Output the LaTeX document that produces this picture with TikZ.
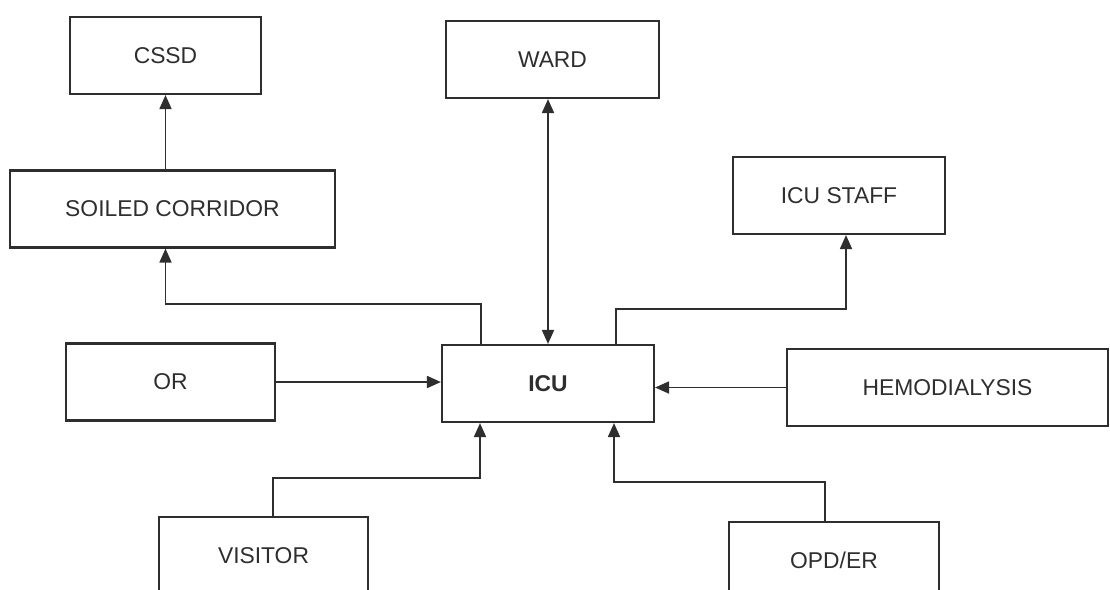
\documentclass[tikz,border=0pt]{standalone}
\usepackage{fontspec}
\setmainfont{Liberation Sans}
\usetikzlibrary{arrows.meta}
\definecolor{ink}{HTML}{2E2E2E}
\begin{document}
\begin{tikzpicture}[x=0.2mm,y=-0.2mm,>={Triangle[length=2.8mm,width=2.4mm]},
        room/.style={draw=ink,line width=1.2pt,text=ink,inner sep=0pt,minimum height=15.4mm,
            font=\fontsize{13}{15}\selectfont},
        flow/.style={draw=ink,line width=1pt,->}]
        \useasboundingbox(0,0)rectangle(1110,589);
        \clip(0,0)rectangle(1110,589);
        \node[room,minimum width=38.2mm](cssd)at(165.5,55.5){CSSD};
        \node[room,minimum width=42.6mm](ward)at(552.5,59.5){WARD};
        \node[room,minimum width=65mm](soiled)at(172.5,209){SOILED CORRIDOR};
        \node[room,minimum width=42.4mm](staff)at(839,195.5){ICU STAFF};
        \node[room,minimum width=41.8mm](or)at(170.5,382){OR};
        \node[room,minimum width=42.4mm](icu)at(548,383.5){\textbf{ICU}};
        \node[room,minimum width=64.2mm](hemo)at(947.5,387.5){HEMODIALYSIS};
        \node[room,minimum width=41.8mm](visitor)at(263.5,555.5){VISITOR};
        \node[room,minimum width=42mm](opd)at(834,560.5){OPD/ER};
        \draw[flow](cssd.south |- soiled.north)--(cssd.south);
        \draw[flow]([xshift=-13.4mm]icu.north)--++(0,-40)-|(cssd.south |- soiled.south);
        \draw[flow,<->](icu.north)--(icu.north |- ward.south);
        \draw[flow]([xshift=13.6mm]icu.north)--++(0,-35)-|([xshift=1.4mm]staff.south);
        \draw[flow](or.east)--(or.east -| icu.west);
        \draw[flow](hemo.west)--(hemo.west -| icu.east);
        \draw[flow]([xshift=1.9mm]visitor.north)--++(0,-38)-|([xshift=-13.6mm]icu.south);
        \draw[flow]([xshift=-1.8mm]opd.north)--++(0,-39)-|([xshift=13.2mm]icu.south);
    \end{tikzpicture}
\end{document}
